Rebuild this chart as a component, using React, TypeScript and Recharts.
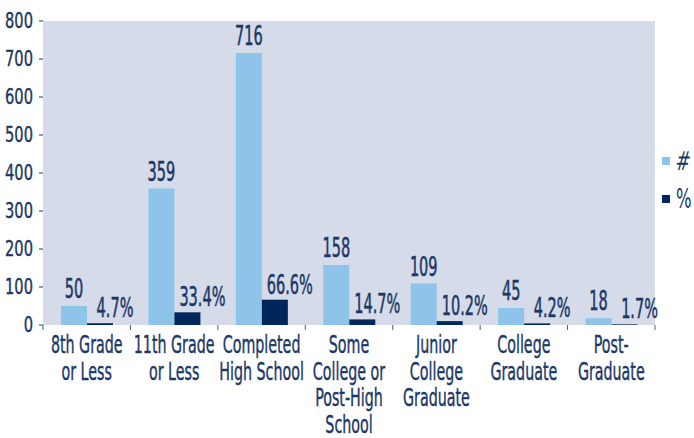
import { Bar, BarChart, CartesianGrid, LabelList, XAxis, YAxis } from "recharts";

const categories = [
  ["8th Grade", "or Less"],
  ["11th Grade", "or Less"],
  ["Completed", "High School"],
  ["Some", "College or", "Post-High", "School"],
  ["Junior", "College", "Graduate"],
  ["College", "Graduate"],
  ["Post-", "Graduate"],
];
const counts = [50, 359, 716, 158, 109, 45, 18];
const percents = [4.7, 33.4, 66.6, 14.7, 10.2, 4.2, 1.7];
const yTicks = [0, 100, 200, 300, 400, 500, 600, 700, 800];

const data = categories.map((lines, i) => ({
  name: lines.join(" "),
  count: counts[i],
  pct: percents[i],
}));

const W = 694;
const H = 438;
const LEFT = 43;
const RIGHT = 39;
const HALF_BAND = (W - LEFT - RIGHT) / categories.length / 2;

const TEXT = "#1b3766";
const LIGHT = "#8fc4ea";
const DARK = "#00275c";
const BG = "#d5dbe9";
const FONT = "'DejaVu Sans Condensed', 'DejaVu Sans', sans-serif";

function XTick(props: any) {
  const { x, y, index } = props;
  const lines = categories[index] ?? [];
  const last = index === categories.length - 1;
  return (
    <g>
      <line x1={x - HALF_BAND} x2={x - HALF_BAND} y1={y} y2={y + 5} stroke="#4a5f85" />
      {last && <line x1={x + HALF_BAND} x2={x + HALF_BAND} y1={y} y2={y + 5} stroke="#4a5f85" />}
      {lines.map((t, i) => (
        <text
          key={i}
          transform={`translate(${x},${y + 28 + i * 26.6}) scale(0.66,1)`}
          textAnchor="middle"
          fontFamily={FONT}
          fontSize={24}
          fill={TEXT}
          stroke={TEXT}
          strokeWidth={0.4}
        >
          {t}
        </text>
      ))}
    </g>
  );
}

function YTick(props: any) {
  const { x, y, payload } = props;
  return (
    <text
      transform={`translate(${x},${y + 7}) scale(0.74,1)`}
      textAnchor="end"
      fontFamily={FONT}
      fontSize={22}
      fill={TEXT}
      stroke={TEXT}
      strokeWidth={0.4}
    >
      {payload.value}
    </text>
  );
}

function valueLabel(suffix: string, shift: number, lift: number) {
  return (props: any) => {
    const { x, y, width, value } = props;
    return (
      <text
        transform={`translate(${x + width / 2 + shift},${y - lift}) scale(0.62,1)`}
        textAnchor="middle"
        fontFamily={FONT}
        fontSize={26}
        fill={TEXT}
        stroke={TEXT}
        strokeWidth={0.5}
      >
        {value}
        {suffix}
      </text>
    );
  };
}

export default function App() {
  return (
    <div style={{ position: "absolute", left: 0, top: 0, width: W, height: H, background: "#fff" }}>
      <BarChart
        width={W}
        height={H}
        data={data}
        margin={{ top: 21, right: RIGHT, left: 0, bottom: 0 }}
        barGap={0}
        barSize={26}
      >
        <CartesianGrid fill={BG} horizontal={false} vertical={false} stroke="none" />
        <XAxis
          dataKey="name"
          height={113}
          axisLine={false}
          tickLine={false}
          tickSize={0}
          tickMargin={0}
          interval={0}
          tick={<XTick />}
        />
        <YAxis
          width={LEFT}
          domain={[0, 800]}
          ticks={yTicks}
          axisLine={false}
          tickLine={{ stroke: TEXT }}
          tickSize={4}
          tickMargin={6}
          tick={<YTick />}
        />
        <Bar dataKey="count" name="#" fill={LIGHT} isAnimationActive={false}>
          <LabelList dataKey="count" content={valueLabel("", 0, 8)} />
        </Bar>
        <Bar dataKey="pct" name="%" fill={DARK} isAnimationActive={false}>
          <LabelList dataKey="pct" content={valueLabel("%", 15, 6)} />
        </Bar>
      </BarChart>
      <div style={{ position: "absolute", left: 662, top: 144, fontFamily: FONT, color: TEXT, fontSize: 26 }}>
        <div style={{ display: "flex", alignItems: "center", height: 34 }}>
          <span style={{ width: 8, height: 8, background: LIGHT, marginRight: 6 }} />
          <span style={{ display: "inline-block", transform: "scaleX(0.75) skewX(-10deg)", transformOrigin: "left" }}>#</span>
        </div>
        <div style={{ display: "flex", alignItems: "center", height: 34, marginTop: 4 }}>
          <span style={{ width: 8, height: 8, background: DARK, marginRight: 6 }} />
          <span style={{ display: "inline-block", transform: "scaleX(0.7)", transformOrigin: "left" }}>%</span>
        </div>
      </div>
    </div>
  );
}
